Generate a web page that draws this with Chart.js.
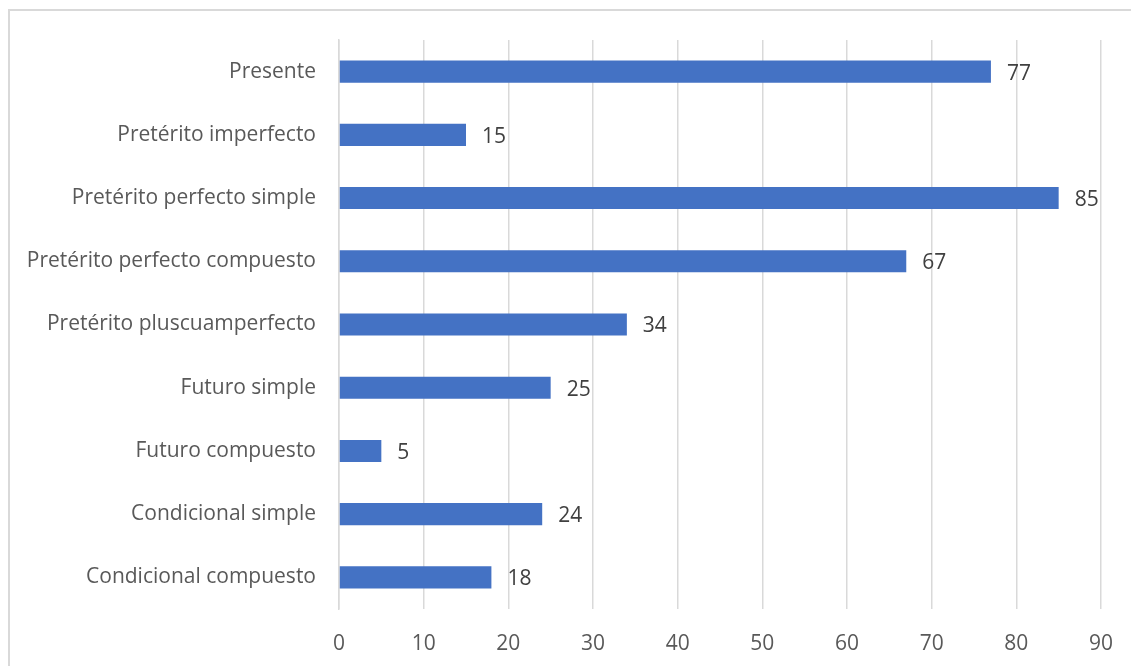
<!DOCTYPE html>
<html>
<head>
<meta charset="utf-8">
<script src="https://cdn.jsdelivr.net/npm/chart.js@4.4.1/dist/chart.umd.min.js"></script>
<style>
  html, body { margin: 0; padding: 0; background: #ffffff; overflow: hidden; }
  #frame { position: absolute; left: 8px; top: 9px; width: 1200px; height: 700px; border: 2px solid #d9d9d9; box-sizing: border-box; }
  #c { position: absolute; left: 0; top: 0; }
</style>
</head>
<body>
<div id="frame"></div>
<canvas id="c" width="1131" height="666"></canvas>
<script>
const categories = [
  "Presente",
  "Pretérito imperfecto",
  "Pretérito perfecto simple",
  "Pretérito perfecto compuesto",
  "Pretérito pluscuamperfecto",
  "Futuro simple",
  "Futuro compuesto",
  "Condicional simple",
  "Condicional compuesto"
];
const values = [77, 15, 85, 67, 34, 25, 5, 24, 18];
const xTicks = [0, 10, 20, 30, 40, 50, 60, 70, 80, 90];

const FONT = "Open Sans";
const FSIZE = 21;

const dataLabels = {
  id: 'dataLabels',
  afterDatasetsDraw(chart) {
    const ctx = chart.ctx;
    const meta = chart.getDatasetMeta(0);
    ctx.save();
    ctx.font = FSIZE + "px " + FONT;
    ctx.fillStyle = "#404040";
    ctx.textAlign = "left";
    ctx.textBaseline = "middle";
    meta.data.forEach((bar, i) => {
      ctx.fillText(String(values[i]), bar.x + 16, bar.y + 2);
    });
    ctx.restore();
  }
};

new Chart(document.getElementById('c'), {
  type: 'bar',
  data: {
    labels: categories,
    datasets: [{
      data: values,
      backgroundColor: '#4472C4',
      borderWidth: 0,
      barPercentage: 0.7,
      categoryPercentage: 0.5
    }]
  },
  options: {
    indexAxis: 'y',
    responsive: false,
    animation: false,
    layout: { padding: { left: 0, top: 40, right: 30, bottom: 0 } },
    plugins: { legend: { display: false }, tooltip: { enabled: false } },
    scales: {
      x: {
        min: 0, max: 90,
        afterBuildTicks(scale) { scale.ticks = xTicks.map(v => ({ value: v })); },
        afterFit(scale) { scale.height = 57; scale.paddingRight = 0; scale.paddingLeft = 0; },
        grid: { color: '#d9d9d9', lineWidth: 1.5, drawTicks: false },
        border: { display: false },
        ticks: { color: '#595959', font: { family: FONT, size: FSIZE }, padding: 22, maxRotation: 0 }
      },
      y: {
        afterFit(scale) { scale.width = 339; scale.paddingTop = 0; scale.paddingBottom = 0; },
        grid: { display: false, drawTicks: false },
        border: { display: true, color: '#d9d9d9', width: 1.5 },
        ticks: { color: '#595959', font: { family: FONT, size: FSIZE }, padding: 23, autoSkip: false }
      }
    }
  },
  plugins: [dataLabels]
});
</script>
</body>
</html>
